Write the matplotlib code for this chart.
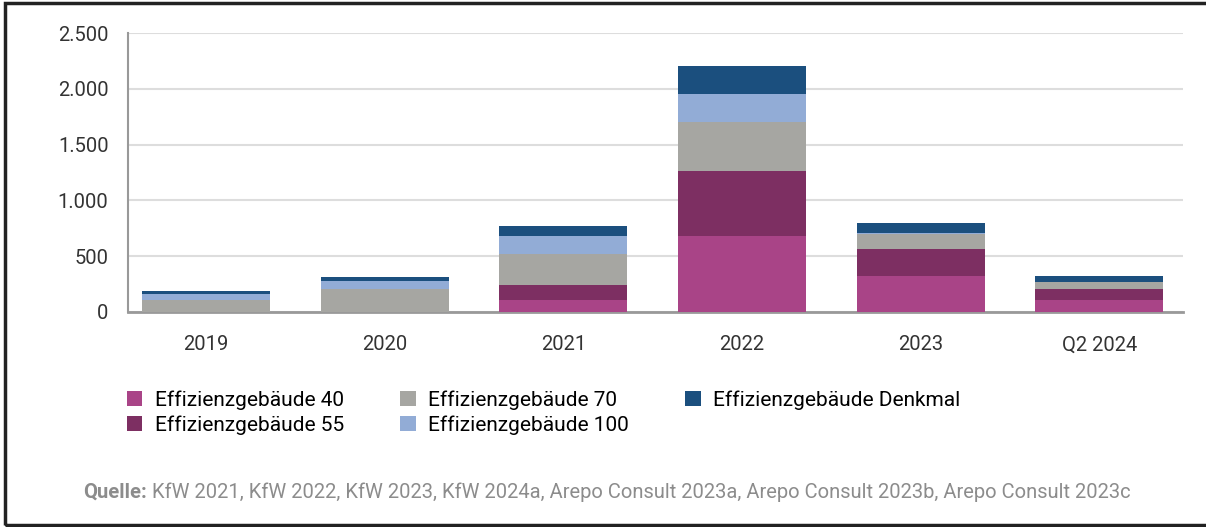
import numpy as np
import matplotlib.pyplot as plt
from matplotlib.ticker import FuncFormatter
from matplotlib.patches import Rectangle

plt.rcParams['font.family'] = ['Roboto', 'DejaVu Sans']

years = ['2019', '2020', '2021', '2022', '2023', 'Q2 2024']
eg40 = [0, 0, 103, 677, 318, 105]
eg55 = [0, 0, 135, 585, 245, 99]
eg70 = [105, 201, 279, 444, 135, 60]
eg100 = [54, 75, 165, 247, 8, 4]
denkmal = [27, 39, 90, 257, 95, 54]

labels = ['Effizienzgebäude 40', 'Effizienzgebäude 55', 'Effizienzgebäude 70',
          'Effizienzgebäude 100', 'Effizienzgebäude Denkmal']
colors = ['#A94487', '#7D2F62', '#A6A6A2', '#92ACD6', '#1B4F7E']

fig = plt.figure(figsize=(12.06, 5.27), dpi=100)
ax = fig.add_axes([0.1061, 0.4085, 0.875, 0.5283])

x = np.arange(len(years))
bottom = np.zeros(len(years))
handles = []
for vals, lab, col in zip([eg40, eg55, eg70, eg100, denkmal], labels, colors):
    b = ax.bar(x, vals, 0.716, bottom=bottom, color=col, label=lab, zorder=3)
    handles.append(b)
    bottom += np.array(vals)

ax.set_ylim(0, 2500)
ax.set_xlim(-0.437, 5.47)
ax.set_yticks([0, 500, 1000, 1500, 2000, 2500])
ax.yaxis.set_major_formatter(FuncFormatter(lambda v, p: f'{int(v):,}'.replace(',', '.')))
ax.set_xticks(x)
ax.set_xticklabels(years)
ax.tick_params(axis='y', length=0, pad=14, labelsize=14.5, labelcolor='#333333')
ax.tick_params(axis='x', length=0, pad=17, labelsize=14.5, labelcolor='#333333')
ax.grid(axis='y', color='#dddddd', linewidth=1.5, zorder=0)
for s in ['top', 'right']:
    ax.spines[s].set_visible(False)
ax.spines['left'].set_color('#999999')
ax.spines['bottom'].set_color('#999999')
ax.spines['left'].set_linewidth(1.5)
ax.spines['bottom'].set_linewidth(2)

fig.legend(handles=handles, labels=labels, ncol=3, loc='upper left',
           bbox_to_anchor=(0.098, 0.275), frameon=False, fontsize=15,
           handlelength=0.75, handleheight=0.75, handletextpad=0.6,
           columnspacing=2.7, labelspacing=0.25, borderaxespad=0)

# source line: bold "Quelle:" then the rest right after it
q = fig.text(0.069, 0.055, 'Quelle:', fontsize=14.5, fontweight='bold', color='#8c8c8c')
ax.annotate(' KfW 2021, KfW 2022, KfW 2023, KfW 2024a, Arepo Consult 2023a, '
            'Arepo Consult 2023b, Arepo Consult 2023c', xy=(1, 0), xycoords=q,
            va='bottom', ha='left', fontsize=14.5, color='#8c8c8c', annotation_clip=False)

# frame around the whole picture
fig.patches.append(Rectangle((0.004, 0.004), 1.1, 0.99, transform=fig.transFigure,
                             fill=False, edgecolor='#222222', linewidth=2.5))

fig.savefig('out.png', dpi=100)
